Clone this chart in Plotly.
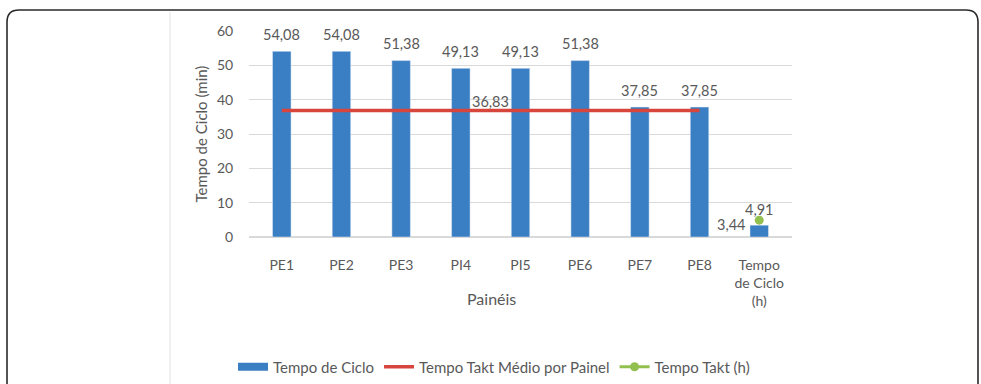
import plotly.graph_objects as go

# Panel cycle times (min) and takt references
categories = ["PE1", "PE2", "PE3", "PI4", "PI5", "PE6", "PE7", "PE8", "Tempo<br>de Ciclo<br>(h)"]
cycle_time = [54.08, 54.08, 51.38, 49.13, 49.13, 51.38, 37.85, 37.85, 3.44]
takt_mean = [36.83, 36.83, 36.83, 36.83, 36.83, 36.83, 36.83, 36.83, None]
takt_hours = [None, None, None, None, None, None, None, None, 4.91]
y_ticks = [0, 10, 20, 30, 40, 50, 60]

BLUE = "#3A7EC3"
RED = "#D8453C"
GREEN = "#92C04E"
GREY = "#595959"
FONT = "Lato"

W, H = 981, 384
L, R, T, B = 249, 792, 31, 237  # plot area in pixels


def px(x):
    return (x - L) / (R - L)


def py(y):
    return (B - y) / (B - T)


def fmt(v):
    return f"{v:.2f}".replace(".", ",")


fig = go.Figure()

fig.add_trace(go.Bar(
    x=categories, y=cycle_time, marker_color=BLUE, width=0.31,
    showlegend=False, hoverinfo="y",
))
# legend entry drawn as a wide flat swatch
fig.add_trace(go.Scatter(
    x=[None], y=[None], mode="lines", name="Tempo de Ciclo",
    line=dict(color=BLUE, width=8),
))
fig.add_trace(go.Scatter(
    x=categories, y=takt_mean, mode="lines", name="Tempo Takt Médio por Painel",
    line=dict(color=RED, width=3.5),
))
fig.add_trace(go.Scatter(
    x=categories, y=takt_hours, mode="lines+markers", name="Tempo Takt (h)",
    line=dict(color=GREEN, width=3), marker=dict(color=GREEN, size=9),
))

LABEL_FONT = dict(size=14.5, color=GREY, family=FONT)
annotations = []
for i, (c, v) in enumerate(zip(categories, cycle_time)):
    if i < len(categories) - 1:
        annotations.append(dict(x=c, y=v, text=fmt(v), yshift=17, showarrow=False,
                                font=LABEL_FONT))
    else:
        annotations.append(dict(x=c, y=v, text=fmt(v), xanchor="right",
                                xshift=-11, yshift=1, showarrow=False, font=LABEL_FONT))
annotations.append(dict(x=3.5, y=takt_mean[0], text=fmt(takt_mean[0]),
                        yshift=9, showarrow=False, font=LABEL_FONT))
annotations.append(dict(x=categories[-1], y=takt_hours[-1], text=fmt(takt_hours[-1]),
                        yshift=11, showarrow=False, font=LABEL_FONT))
annotations.append(dict(xref="paper", yref="paper", x=px(491), y=py(298),
                        xanchor="center", yanchor="middle",
                        text="Painéis", showarrow=False,
                        font=dict(size=16, color=GREY, family=FONT)))

# outer rounded frame and left divider
r = 12
x0, x1, yt, yb = 7, 978, 10, 400
frame = (f"M {px(x0)},{py(yb)} L {px(x0)},{py(yt + r)} "
         f"Q {px(x0)},{py(yt)} {px(x0 + r)},{py(yt)} "
         f"L {px(x1 - r)},{py(yt)} Q {px(x1)},{py(yt)} {px(x1)},{py(yt + r)} "
         f"L {px(x1)},{py(yb)}")
shapes = [
    dict(type="path", xref="paper", yref="paper", path=frame,
         line=dict(color="#2a2a2a", width=1.6)),
    dict(type="line", xref="paper", yref="paper", x0=px(170), x1=px(170),
         y0=py(12), y1=py(400), line=dict(color="#e2e2e2", width=1)),
]

fig.update_layout(
    width=W, height=H,
    margin=dict(l=L, r=W - R, t=T, b=H - B, autoexpand=False),
    paper_bgcolor="white", plot_bgcolor="white",
    font=dict(family=FONT, size=14, color=GREY),
    bargap=0.69,
    annotations=annotations,
    shapes=shapes,
    legend=dict(orientation="h", x=px(494), xanchor="center", y=py(367), yanchor="middle",
                font=dict(size=15, color=GREY, family=FONT), itemwidth=30,
                bgcolor="rgba(0,0,0,0)"),
    xaxis=dict(showgrid=False, showline=False, zeroline=False,
               ticks="outside", ticklen=15, tickcolor="rgba(0,0,0,0)",
               tickfont=dict(size=14, color=GREY)),
    yaxis=dict(range=[0, 60], tickvals=y_ticks, showgrid=True, gridcolor="#d9d9d9",
               gridwidth=1, zeroline=True, zerolinecolor="#d9d9d9", showline=False,
               ticks="outside", ticklen=12, tickcolor="rgba(0,0,0,0)",
               tickfont=dict(size=14, color=GREY),
               title=dict(text="Tempo de Ciclo (min)", standoff=5,
                          font=dict(size=15, color=GREY))),
)

fig.write_html("out.html")
